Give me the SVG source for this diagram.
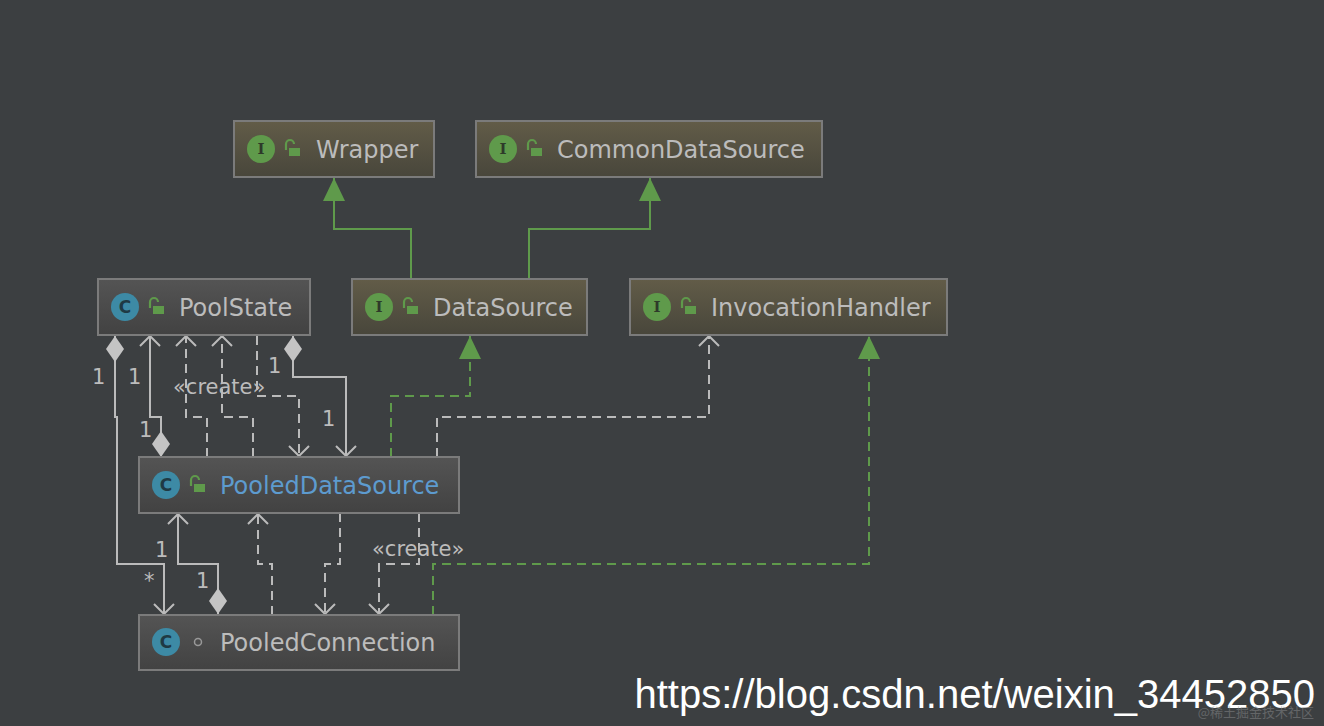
<svg xmlns="http://www.w3.org/2000/svg" width="1324" height="726" viewBox="0 0 1324 726">
<defs>
<linearGradient id="gi" x1="0" y1="0" x2="0" y2="1"><stop offset="0" stop-color="#625c48"/><stop offset="1" stop-color="#48463b"/></linearGradient>
<linearGradient id="gc" x1="0" y1="0" x2="0" y2="1"><stop offset="0" stop-color="#545454"/><stop offset="1" stop-color="#424242"/></linearGradient>
<marker id="open" viewBox="0 0 12 22" refX="11" refY="11" markerWidth="12" markerHeight="22" markerUnits="userSpaceOnUse" orient="auto-start-reverse"><path d="M1,1 L11,11 L1,21" fill="none" stroke="#bbbbbb" stroke-width="2"/></marker>
<marker id="tri" viewBox="0 0 24 24" refX="23" refY="12" markerWidth="24" markerHeight="24" markerUnits="userSpaceOnUse" orient="auto-start-reverse"><path d="M0,1 L23,12 L0,23 Z" fill="#5f9a4b"/></marker>
<marker id="dia" viewBox="0 0 27 20" refX="26" refY="10" markerWidth="27" markerHeight="20" markerUnits="userSpaceOnUse" orient="auto-start-reverse"><path d="M0,10 L13,1 L26,10 L13,19 Z" fill="#c4c4c4"/></marker>
</defs>
<style>
.bi{fill:url(#gi);stroke:#7b7b7b;stroke-width:2}
.bc{fill:url(#gc);stroke:#7b7b7b;stroke-width:2}
.t{font-family:"DejaVu Sans","Noto Sans",sans-serif;font-size:24px;fill:#bcbcbc}
.lb{font-family:"DejaVu Sans",sans-serif;font-size:21px;fill:#bcbcbc}
.ii{font-family:"DejaVu Serif",serif;font-size:15px;fill:#2e3a2a;font-weight:bold}
.ci{font-family:"DejaVu Sans",sans-serif;font-size:17px;fill:#1f3a44;font-weight:bold}
.s{fill:none;stroke:#bbbbbb;stroke-width:2}
.d{fill:none;stroke:#bbbbbb;stroke-width:2;stroke-dasharray:9,6}
.g{fill:none;stroke:#5f9a4b;stroke-width:2}
.gd{fill:none;stroke:#5f9a4b;stroke-width:2;stroke-dasharray:9,6}
.lock{fill:none;stroke:#5f9a4b;stroke-width:2.2}
</style>
<rect width="1324" height="726" fill="#3c3f41"/>
<g id="connectors">
<path class="g" d="M411,279 V229 H334 V178" marker-end="url(#tri)"/>
<path class="g" d="M529,279 V229 H650 V178" marker-end="url(#tri)"/>
<path class="s" d="M115,336 V417 H117 V564 H164 V614" marker-start="url(#dia)" marker-end="url(#open)"/>
<path class="s" d="M161,457 V417 H150 V336" marker-start="url(#dia)" marker-end="url(#open)"/>
<path class="d" d="M207,457 V417 H186 V336" marker-end="url(#open)"/>
<path class="d" d="M253,457 V417 H222 V336" marker-end="url(#open)"/>
<path class="d" d="M257,336 V396 H299 V456" marker-end="url(#open)"/>
<path class="s" d="M293,336 V377 H346 V456" marker-start="url(#dia)" marker-end="url(#open)"/>
<path class="gd" d="M391,457 V396 H470 V336" marker-end="url(#tri)"/>
<path class="d" d="M437,457 V417 H709 V336" marker-end="url(#open)"/>
<path class="s" d="M218,614 V564 H178 V514" marker-start="url(#dia)" marker-end="url(#open)"/>
<path class="d" d="M272,615 V564 H258 V514" marker-end="url(#open)"/>
<path class="d" d="M340,513 V564 H325 V614" marker-end="url(#open)"/>
<path class="d" d="M419,513 V564 H379 V614" marker-end="url(#open)"/>
<path class="gd" d="M433,615 V564 H869 V336" marker-end="url(#tri)"/>
<text class="lb" x="92" y="384">1</text>
<text class="lb" x="128" y="384">1</text>
<text class="lb" x="139" y="437">1</text>
<text class="lb" x="268" y="373">1</text>
<text class="lb" x="322" y="426">1</text>
<text class="lb" x="173" y="394">«create»</text>
<text class="lb" x="155" y="557">1</text>
<text class="lb" x="144" y="588">*</text>
<text class="lb" x="196" y="588">1</text>
<text class="lb" x="372" y="556">«create»</text>
</g>
<g id="Wrapper"><rect class="bi" x="234" y="121" width="200" height="56"/><circle cx="261" cy="149" r="14" fill="#5f9a4b"/><text class="ii" x="261" y="154" text-anchor="middle">I</text><path class="lock" d="M286,150 V144 a4,4 0 0 1 8,0"/><rect x="289" y="148" width="11" height="8" fill="#5f9a4b"/><text class="t" x="316" y="158">Wrapper</text></g>
<g id="CommonDataSource"><rect class="bi" x="476" y="121" width="346" height="56"/><circle cx="503" cy="149" r="14" fill="#5f9a4b"/><text class="ii" x="503" y="154" text-anchor="middle">I</text><path class="lock" d="M528,150 V144 a4,4 0 0 1 8,0"/><rect x="531" y="148" width="11" height="8" fill="#5f9a4b"/><text class="t" x="557" y="158">CommonDataSource</text></g>
<g id="PoolState"><rect class="bc" x="98" y="279" width="212" height="56"/><circle cx="125" cy="307" r="14" fill="#3d8aa5"/><text class="ci" x="125" y="313" text-anchor="middle">C</text><path class="lock" d="M150,308 V302 a4,4 0 0 1 8,0"/><rect x="153" y="306" width="11" height="8" fill="#5f9a4b"/><text class="t" x="179" y="316">PoolState</text></g>
<g id="DataSource"><rect class="bi" x="352" y="279" width="235" height="56"/><circle cx="379" cy="307" r="14" fill="#5f9a4b"/><text class="ii" x="379" y="312" text-anchor="middle">I</text><path class="lock" d="M404,308 V302 a4,4 0 0 1 8,0"/><rect x="407" y="306" width="11" height="8" fill="#5f9a4b"/><text class="t" x="433" y="316">DataSource</text></g>
<g id="InvocationHandler"><rect class="bi" x="630" y="279" width="317" height="56"/><circle cx="657" cy="307" r="14" fill="#5f9a4b"/><text class="ii" x="657" y="312" text-anchor="middle">I</text><path class="lock" d="M682,308 V302 a4,4 0 0 1 8,0"/><rect x="685" y="306" width="11" height="8" fill="#5f9a4b"/><text class="t" x="711" y="316">InvocationHandler</text></g>
<g id="PooledDataSource"><rect class="bc" x="139" y="457" width="320" height="56"/><circle cx="166" cy="485" r="14" fill="#3d8aa5"/><text class="ci" x="166" y="491" text-anchor="middle">C</text><path class="lock" d="M191,486 V480 a4,4 0 0 1 8,0"/><rect x="194" y="484" width="11" height="8" fill="#5f9a4b"/><text class="t" x="220" y="494" style="fill:#5d9bcf">PooledDataSource</text></g>
<g id="PooledConnection"><rect class="bc" x="139" y="615" width="320" height="55"/><circle cx="166" cy="642" r="14" fill="#3d8aa5"/><text class="ci" x="166" y="648" text-anchor="middle">C</text><circle cx="198" cy="642" r="3.5" fill="none" stroke="#999" stroke-width="1.5"/><text class="t" x="220" y="651">PooledConnection</text></g>
<text x="1315" y="708" text-anchor="end" font-family="Liberation Sans,Arial,sans-serif" font-size="40" fill="#ffffff">https://blog.csdn.net/weixin_34452850</text>
<text x="1314" y="717" text-anchor="end" font-family="Noto Sans CJK SC,sans-serif" font-size="13" fill="#8a8c8e" opacity="0.5">@稀土掘金技术社区</text>
</svg>
